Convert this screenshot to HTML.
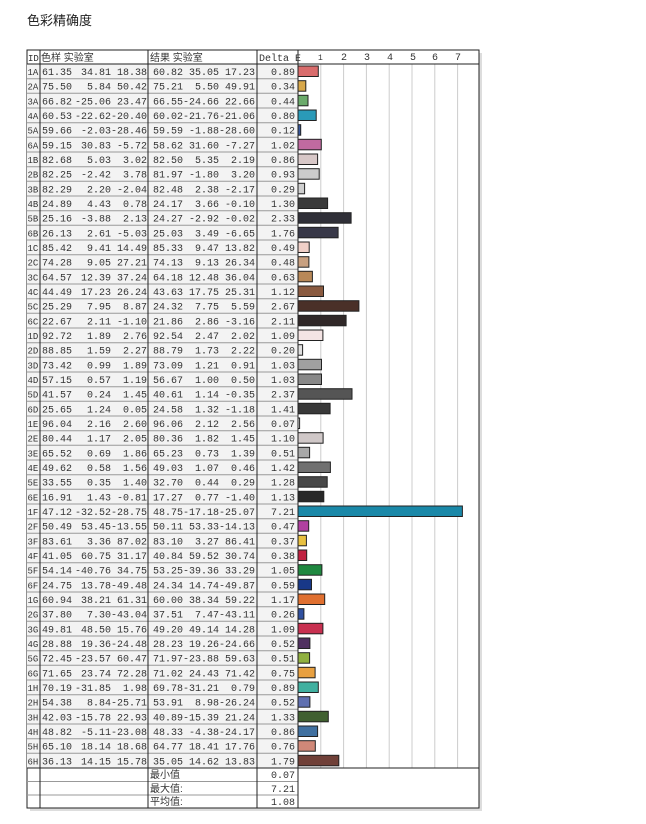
<!DOCTYPE html>
<html><head><meta charset="utf-8"><style>
body{margin:0;background:#fff;width:646px;height:824px;overflow:hidden}
svg{display:block}
text{font-family:"Liberation Mono","Noto Sans CJK SC",monospace;font-size:10px;fill:#333}
.r{text-anchor:end}
.c{font-family:"Liberation Sans","Noto Sans CJK SC",sans-serif}
g>text:first-child{font-size:9px}
rect.b{stroke:#222;stroke-width:1}
</style></head><body>
<svg width="646" height="824" viewBox="0 0 646 824">
<text x="27" y="25" class="c" style="font-size:13px;fill:#222">色彩精确度</text>
<rect x="30" y="53" width="452" height="758" fill="#ddd"/>
<rect x="27" y="50" width="452" height="758" fill="#fff" stroke="#222"/>
<rect x="27" y="64" width="271" height="704" fill="#f3f3f3"/>
<g stroke="#ccc">
<line x1="320.8" y1="64" x2="320.8" y2="768"/><line x1="343.6" y1="64" x2="343.6" y2="768"/><line x1="366.4" y1="64" x2="366.4" y2="768"/><line x1="389.2" y1="64" x2="389.2" y2="768"/><line x1="412" y1="64" x2="412" y2="768"/><line x1="434.8" y1="64" x2="434.8" y2="768"/><line x1="457.6" y1="64" x2="457.6" y2="768"/>
</g>
<g stroke="#999">
<line x1="27" y1="78.7" x2="298" y2="78.7"/><line x1="27" y1="93.3" x2="298" y2="93.3"/><line x1="27" y1="108" x2="298" y2="108"/><line x1="27" y1="122.7" x2="298" y2="122.7"/><line x1="27" y1="137.3" x2="298" y2="137.3"/><line x1="27" y1="152" x2="298" y2="152"/><line x1="27" y1="166.7" x2="298" y2="166.7"/><line x1="27" y1="181.3" x2="298" y2="181.3"/><line x1="27" y1="196" x2="298" y2="196"/><line x1="27" y1="210.7" x2="298" y2="210.7"/><line x1="27" y1="225.3" x2="298" y2="225.3"/><line x1="27" y1="240" x2="298" y2="240"/><line x1="27" y1="254.7" x2="298" y2="254.7"/><line x1="27" y1="269.3" x2="298" y2="269.3"/><line x1="27" y1="284" x2="298" y2="284"/><line x1="27" y1="298.7" x2="298" y2="298.7"/><line x1="27" y1="313.3" x2="298" y2="313.3"/><line x1="27" y1="328" x2="298" y2="328"/><line x1="27" y1="342.7" x2="298" y2="342.7"/><line x1="27" y1="357.3" x2="298" y2="357.3"/><line x1="27" y1="372" x2="298" y2="372"/><line x1="27" y1="386.7" x2="298" y2="386.7"/><line x1="27" y1="401.3" x2="298" y2="401.3"/><line x1="27" y1="416" x2="298" y2="416"/><line x1="27" y1="430.7" x2="298" y2="430.7"/><line x1="27" y1="445.3" x2="298" y2="445.3"/><line x1="27" y1="460" x2="298" y2="460"/><line x1="27" y1="474.7" x2="298" y2="474.7"/><line x1="27" y1="489.3" x2="298" y2="489.3"/><line x1="27" y1="504" x2="298" y2="504"/><line x1="27" y1="518.7" x2="298" y2="518.7"/><line x1="27" y1="533.3" x2="298" y2="533.3"/><line x1="27" y1="548" x2="298" y2="548"/><line x1="27" y1="562.7" x2="298" y2="562.7"/><line x1="27" y1="577.3" x2="298" y2="577.3"/><line x1="27" y1="592" x2="298" y2="592"/><line x1="27" y1="606.7" x2="298" y2="606.7"/><line x1="27" y1="621.3" x2="298" y2="621.3"/><line x1="27" y1="636" x2="298" y2="636"/><line x1="27" y1="650.7" x2="298" y2="650.7"/><line x1="27" y1="665.3" x2="298" y2="665.3"/><line x1="27" y1="680" x2="298" y2="680"/><line x1="27" y1="694.7" x2="298" y2="694.7"/><line x1="27" y1="709.3" x2="298" y2="709.3"/><line x1="27" y1="724" x2="298" y2="724"/><line x1="27" y1="738.7" x2="298" y2="738.7"/><line x1="27" y1="753.3" x2="298" y2="753.3"/>
<line x1="27" y1="781.5" x2="298" y2="781.5"/><line x1="27" y1="795" x2="298" y2="795"/>
</g>
<g stroke="#222">
<line x1="27" y1="64" x2="479" y2="64"/><line x1="27" y1="768" x2="479" y2="768"/>
<line x1="40" y1="50" x2="40" y2="808"/><line x1="148" y1="50" x2="148" y2="808"/><line x1="257" y1="50" x2="257" y2="808"/><line x1="298" y1="50" x2="298" y2="808"/>
</g>
<text x="28" y="61" style="font-size:9px">ID</text><text x="41" y="61" class="c">色样 实验室</text><text x="150" y="61" class="c">结果 实验室</text><text x="259" y="61">Delta E</text>
<g style="font-size:8px"><text x="318" y="60" style="font-size:8px">1</text><text x="341" y="60">2</text><text x="364" y="60">3</text><text x="387" y="60">4</text><text x="410" y="60">5</text><text x="432" y="60">6</text><text x="455" y="60">7</text></g>

<g transform="translate(0,64)"><text x="27.5" y="11">1A</text><text class="r" x="72" y="11">61.35</text><text class="r" x="111" y="11">34.81</text><text class="r" x="147" y="11">18.38</text><text class="r" x="183" y="11">60.82</text><text class="r" x="219" y="11">35.05</text><text class="r" x="255" y="11">17.23</text><text class="r" x="295" y="11">0.89</text><rect class="b" x="298" y="2" width="20.3" height="10.5" fill="#d96c6c"/></g>
<g transform="translate(0,78.7)"><text x="27.5" y="11">2A</text><text class="r" x="72" y="11">75.50</text><text class="r" x="111" y="11">5.84</text><text class="r" x="147" y="11">50.42</text><text class="r" x="183" y="11">75.21</text><text class="r" x="219" y="11">5.50</text><text class="r" x="255" y="11">49.91</text><text class="r" x="295" y="11">0.34</text><rect class="b" x="298" y="2" width="7.8" height="10.5" fill="#d8a84a"/></g>
<g transform="translate(0,93.3)"><text x="27.5" y="11">3A</text><text class="r" x="72" y="11">66.82</text><text class="r" x="111" y="11">-25.06</text><text class="r" x="147" y="11">23.47</text><text class="r" x="183" y="11">66.55</text><text class="r" x="219" y="11">-24.66</text><text class="r" x="255" y="11">22.66</text><text class="r" x="295" y="11">0.44</text><rect class="b" x="298" y="2" width="10" height="10.5" fill="#6aaa6a"/></g>
<g transform="translate(0,108)"><text x="27.5" y="11">4A</text><text class="r" x="72" y="11">60.53</text><text class="r" x="111" y="11">-22.62</text><text class="r" x="147" y="11">-20.40</text><text class="r" x="183" y="11">60.02</text><text class="r" x="219" y="11">-21.76</text><text class="r" x="255" y="11">-21.06</text><text class="r" x="295" y="11">0.80</text><rect class="b" x="298" y="2" width="18.2" height="10.5" fill="#2a9ab8"/></g>
<g transform="translate(0,122.7)"><text x="27.5" y="11">5A</text><text class="r" x="72" y="11">59.66</text><text class="r" x="111" y="11">-2.03</text><text class="r" x="147" y="11">-28.46</text><text class="r" x="183" y="11">59.59</text><text class="r" x="219" y="11">-1.88</text><text class="r" x="255" y="11">-28.60</text><text class="r" x="295" y="11">0.12</text><rect class="b" x="298" y="2" width="2.7" height="10.5" fill="#3a5aa0"/></g>
<g transform="translate(0,137.3)"><text x="27.5" y="11">6A</text><text class="r" x="72" y="11">59.15</text><text class="r" x="111" y="11">30.83</text><text class="r" x="147" y="11">-5.72</text><text class="r" x="183" y="11">58.62</text><text class="r" x="219" y="11">31.60</text><text class="r" x="255" y="11">-7.27</text><text class="r" x="295" y="11">1.02</text><rect class="b" x="298" y="2" width="23.3" height="10.5" fill="#c06aa0"/></g>
<g transform="translate(0,152)"><text x="27.5" y="11">1B</text><text class="r" x="72" y="11">82.68</text><text class="r" x="111" y="11">5.03</text><text class="r" x="147" y="11">3.02</text><text class="r" x="183" y="11">82.50</text><text class="r" x="219" y="11">5.35</text><text class="r" x="255" y="11">2.19</text><text class="r" x="295" y="11">0.86</text><rect class="b" x="298" y="2" width="19.6" height="10.5" fill="#d8c8c8"/></g>
<g transform="translate(0,166.7)"><text x="27.5" y="11">2B</text><text class="r" x="72" y="11">82.25</text><text class="r" x="111" y="11">-2.42</text><text class="r" x="147" y="11">3.78</text><text class="r" x="183" y="11">81.97</text><text class="r" x="219" y="11">-1.80</text><text class="r" x="255" y="11">3.20</text><text class="r" x="295" y="11">0.93</text><rect class="b" x="298" y="2" width="21.2" height="10.5" fill="#cccccc"/></g>
<g transform="translate(0,181.3)"><text x="27.5" y="11">3B</text><text class="r" x="72" y="11">82.29</text><text class="r" x="111" y="11">2.20</text><text class="r" x="147" y="11">-2.04</text><text class="r" x="183" y="11">82.48</text><text class="r" x="219" y="11">2.38</text><text class="r" x="255" y="11">-2.17</text><text class="r" x="295" y="11">0.29</text><rect class="b" x="298" y="2" width="6.6" height="10.5" fill="#cfcfcf"/></g>
<g transform="translate(0,196)"><text x="27.5" y="11">4B</text><text class="r" x="72" y="11">24.89</text><text class="r" x="111" y="11">4.43</text><text class="r" x="147" y="11">0.78</text><text class="r" x="183" y="11">24.17</text><text class="r" x="219" y="11">3.66</text><text class="r" x="255" y="11">-0.10</text><text class="r" x="295" y="11">1.30</text><rect class="b" x="298" y="2" width="29.6" height="10.5" fill="#3a3a3a"/></g>
<g transform="translate(0,210.7)"><text x="27.5" y="11">5B</text><text class="r" x="72" y="11">25.16</text><text class="r" x="111" y="11">-3.88</text><text class="r" x="147" y="11">2.13</text><text class="r" x="183" y="11">24.27</text><text class="r" x="219" y="11">-2.92</text><text class="r" x="255" y="11">-0.02</text><text class="r" x="295" y="11">2.33</text><rect class="b" x="298" y="2" width="53.1" height="10.5" fill="#303038"/></g>
<g transform="translate(0,225.3)"><text x="27.5" y="11">6B</text><text class="r" x="72" y="11">26.13</text><text class="r" x="111" y="11">2.61</text><text class="r" x="147" y="11">-5.03</text><text class="r" x="183" y="11">25.03</text><text class="r" x="219" y="11">3.49</text><text class="r" x="255" y="11">-6.65</text><text class="r" x="295" y="11">1.76</text><rect class="b" x="298" y="2" width="40.1" height="10.5" fill="#383848"/></g>
<g transform="translate(0,240)"><text x="27.5" y="11">1C</text><text class="r" x="72" y="11">85.42</text><text class="r" x="111" y="11">9.41</text><text class="r" x="147" y="11">14.49</text><text class="r" x="183" y="11">85.33</text><text class="r" x="219" y="11">9.47</text><text class="r" x="255" y="11">13.82</text><text class="r" x="295" y="11">0.49</text><rect class="b" x="298" y="2" width="11.2" height="10.5" fill="#f0d0c8"/></g>
<g transform="translate(0,254.7)"><text x="27.5" y="11">2C</text><text class="r" x="72" y="11">74.28</text><text class="r" x="111" y="11">9.05</text><text class="r" x="147" y="11">27.21</text><text class="r" x="183" y="11">74.13</text><text class="r" x="219" y="11">9.13</text><text class="r" x="255" y="11">26.34</text><text class="r" x="295" y="11">0.48</text><rect class="b" x="298" y="2" width="10.9" height="10.5" fill="#c8a080"/></g>
<g transform="translate(0,269.3)"><text x="27.5" y="11">3C</text><text class="r" x="72" y="11">64.57</text><text class="r" x="111" y="11">12.39</text><text class="r" x="147" y="11">37.24</text><text class="r" x="183" y="11">64.18</text><text class="r" x="219" y="11">12.48</text><text class="r" x="255" y="11">36.04</text><text class="r" x="295" y="11">0.63</text><rect class="b" x="298" y="2" width="14.4" height="10.5" fill="#b88858"/></g>
<g transform="translate(0,284)"><text x="27.5" y="11">4C</text><text class="r" x="72" y="11">44.49</text><text class="r" x="111" y="11">17.23</text><text class="r" x="147" y="11">26.24</text><text class="r" x="183" y="11">43.63</text><text class="r" x="219" y="11">17.75</text><text class="r" x="255" y="11">25.31</text><text class="r" x="295" y="11">1.12</text><rect class="b" x="298" y="2" width="25.5" height="10.5" fill="#8a5a40"/></g>
<g transform="translate(0,298.7)"><text x="27.5" y="11">5C</text><text class="r" x="72" y="11">25.29</text><text class="r" x="111" y="11">7.95</text><text class="r" x="147" y="11">8.87</text><text class="r" x="183" y="11">24.32</text><text class="r" x="219" y="11">7.75</text><text class="r" x="255" y="11">5.59</text><text class="r" x="295" y="11">2.67</text><rect class="b" x="298" y="2" width="60.9" height="10.5" fill="#4a3028"/></g>
<g transform="translate(0,313.3)"><text x="27.5" y="11">6C</text><text class="r" x="72" y="11">22.67</text><text class="r" x="111" y="11">2.11</text><text class="r" x="147" y="11">-1.10</text><text class="r" x="183" y="11">21.86</text><text class="r" x="219" y="11">2.86</text><text class="r" x="255" y="11">-3.16</text><text class="r" x="295" y="11">2.11</text><rect class="b" x="298" y="2" width="48.1" height="10.5" fill="#302828"/></g>
<g transform="translate(0,328)"><text x="27.5" y="11">1D</text><text class="r" x="72" y="11">92.72</text><text class="r" x="111" y="11">1.89</text><text class="r" x="147" y="11">2.76</text><text class="r" x="183" y="11">92.54</text><text class="r" x="219" y="11">2.47</text><text class="r" x="255" y="11">2.02</text><text class="r" x="295" y="11">1.09</text><rect class="b" x="298" y="2" width="24.9" height="10.5" fill="#f4e4e4"/></g>
<g transform="translate(0,342.7)"><text x="27.5" y="11">2D</text><text class="r" x="72" y="11">88.85</text><text class="r" x="111" y="11">1.59</text><text class="r" x="147" y="11">2.27</text><text class="r" x="183" y="11">88.79</text><text class="r" x="219" y="11">1.73</text><text class="r" x="255" y="11">2.22</text><text class="r" x="295" y="11">0.20</text><rect class="b" x="298" y="2" width="4.6" height="10.5" fill="#e0e0e0"/></g>
<g transform="translate(0,357.3)"><text x="27.5" y="11">3D</text><text class="r" x="72" y="11">73.42</text><text class="r" x="111" y="11">0.99</text><text class="r" x="147" y="11">1.89</text><text class="r" x="183" y="11">73.09</text><text class="r" x="219" y="11">1.21</text><text class="r" x="255" y="11">0.91</text><text class="r" x="295" y="11">1.03</text><rect class="b" x="298" y="2" width="23.5" height="10.5" fill="#a0a0a0"/></g>
<g transform="translate(0,372)"><text x="27.5" y="11">4D</text><text class="r" x="72" y="11">57.15</text><text class="r" x="111" y="11">0.57</text><text class="r" x="147" y="11">1.19</text><text class="r" x="183" y="11">56.67</text><text class="r" x="219" y="11">1.00</text><text class="r" x="255" y="11">0.50</text><text class="r" x="295" y="11">1.03</text><rect class="b" x="298" y="2" width="23.5" height="10.5" fill="#888888"/></g>
<g transform="translate(0,386.7)"><text x="27.5" y="11">5D</text><text class="r" x="72" y="11">41.57</text><text class="r" x="111" y="11">0.24</text><text class="r" x="147" y="11">1.45</text><text class="r" x="183" y="11">40.61</text><text class="r" x="219" y="11">1.14</text><text class="r" x="255" y="11">-0.35</text><text class="r" x="295" y="11">2.37</text><rect class="b" x="298" y="2" width="54" height="10.5" fill="#555555"/></g>
<g transform="translate(0,401.3)"><text x="27.5" y="11">6D</text><text class="r" x="72" y="11">25.65</text><text class="r" x="111" y="11">1.24</text><text class="r" x="147" y="11">0.05</text><text class="r" x="183" y="11">24.58</text><text class="r" x="219" y="11">1.32</text><text class="r" x="255" y="11">-1.18</text><text class="r" x="295" y="11">1.41</text><rect class="b" x="298" y="2" width="32.1" height="10.5" fill="#383838"/></g>
<g transform="translate(0,416)"><text x="27.5" y="11">1E</text><text class="r" x="72" y="11">96.04</text><text class="r" x="111" y="11">2.16</text><text class="r" x="147" y="11">2.60</text><text class="r" x="183" y="11">96.06</text><text class="r" x="219" y="11">2.12</text><text class="r" x="255" y="11">2.56</text><text class="r" x="295" y="11">0.07</text><rect class="b" x="298" y="2" width="1.6" height="10.5" fill="#f8f8f8"/></g>
<g transform="translate(0,430.7)"><text x="27.5" y="11">2E</text><text class="r" x="72" y="11">80.44</text><text class="r" x="111" y="11">1.17</text><text class="r" x="147" y="11">2.05</text><text class="r" x="183" y="11">80.36</text><text class="r" x="219" y="11">1.82</text><text class="r" x="255" y="11">1.45</text><text class="r" x="295" y="11">1.10</text><rect class="b" x="298" y="2" width="25.1" height="10.5" fill="#d0c8c8"/></g>
<g transform="translate(0,445.3)"><text x="27.5" y="11">3E</text><text class="r" x="72" y="11">65.52</text><text class="r" x="111" y="11">0.69</text><text class="r" x="147" y="11">1.86</text><text class="r" x="183" y="11">65.23</text><text class="r" x="219" y="11">0.73</text><text class="r" x="255" y="11">1.39</text><text class="r" x="295" y="11">0.51</text><rect class="b" x="298" y="2" width="11.6" height="10.5" fill="#a8a8a8"/></g>
<g transform="translate(0,460)"><text x="27.5" y="11">4E</text><text class="r" x="72" y="11">49.62</text><text class="r" x="111" y="11">0.58</text><text class="r" x="147" y="11">1.56</text><text class="r" x="183" y="11">49.03</text><text class="r" x="219" y="11">1.07</text><text class="r" x="255" y="11">0.46</text><text class="r" x="295" y="11">1.42</text><rect class="b" x="298" y="2" width="32.4" height="10.5" fill="#707070"/></g>
<g transform="translate(0,474.7)"><text x="27.5" y="11">5E</text><text class="r" x="72" y="11">33.55</text><text class="r" x="111" y="11">0.35</text><text class="r" x="147" y="11">1.40</text><text class="r" x="183" y="11">32.70</text><text class="r" x="219" y="11">0.44</text><text class="r" x="255" y="11">0.29</text><text class="r" x="295" y="11">1.28</text><rect class="b" x="298" y="2" width="29.2" height="10.5" fill="#484848"/></g>
<g transform="translate(0,489.3)"><text x="27.5" y="11">6E</text><text class="r" x="72" y="11">16.91</text><text class="r" x="111" y="11">1.43</text><text class="r" x="147" y="11">-0.81</text><text class="r" x="183" y="11">17.27</text><text class="r" x="219" y="11">0.77</text><text class="r" x="255" y="11">-1.40</text><text class="r" x="295" y="11">1.13</text><rect class="b" x="298" y="2" width="25.8" height="10.5" fill="#282828"/></g>
<g transform="translate(0,504)"><text x="27.5" y="11">1F</text><text class="r" x="72" y="11">47.12</text><text class="r" x="111" y="11">-32.52</text><text class="r" x="147" y="11">-28.75</text><text class="r" x="183" y="11">48.75</text><text class="r" x="219" y="11">-17.18</text><text class="r" x="255" y="11">-25.07</text><text class="r" x="295" y="11">7.21</text><rect class="b" x="298" y="2" width="164.4" height="10.5" fill="#1a88a8"/></g>
<g transform="translate(0,518.7)"><text x="27.5" y="11">2F</text><text class="r" x="72" y="11">50.49</text><text class="r" x="111" y="11">53.45</text><text class="r" x="147" y="11">-13.55</text><text class="r" x="183" y="11">50.11</text><text class="r" x="219" y="11">53.33</text><text class="r" x="255" y="11">-14.13</text><text class="r" x="295" y="11">0.47</text><rect class="b" x="298" y="2" width="10.7" height="10.5" fill="#b040a0"/></g>
<g transform="translate(0,533.3)"><text x="27.5" y="11">3F</text><text class="r" x="72" y="11">83.61</text><text class="r" x="111" y="11">3.36</text><text class="r" x="147" y="11">87.02</text><text class="r" x="183" y="11">83.10</text><text class="r" x="219" y="11">3.27</text><text class="r" x="255" y="11">86.41</text><text class="r" x="295" y="11">0.37</text><rect class="b" x="298" y="2" width="8.4" height="10.5" fill="#e8c040"/></g>
<g transform="translate(0,548)"><text x="27.5" y="11">4F</text><text class="r" x="72" y="11">41.05</text><text class="r" x="111" y="11">60.75</text><text class="r" x="147" y="11">31.17</text><text class="r" x="183" y="11">40.84</text><text class="r" x="219" y="11">59.52</text><text class="r" x="255" y="11">30.74</text><text class="r" x="295" y="11">0.38</text><rect class="b" x="298" y="2" width="8.7" height="10.5" fill="#c02040"/></g>
<g transform="translate(0,562.7)"><text x="27.5" y="11">5F</text><text class="r" x="72" y="11">54.14</text><text class="r" x="111" y="11">-40.76</text><text class="r" x="147" y="11">34.75</text><text class="r" x="183" y="11">53.25</text><text class="r" x="219" y="11">-39.36</text><text class="r" x="255" y="11">33.29</text><text class="r" x="295" y="11">1.05</text><rect class="b" x="298" y="2" width="23.9" height="10.5" fill="#208840"/></g>
<g transform="translate(0,577.3)"><text x="27.5" y="11">6F</text><text class="r" x="72" y="11">24.75</text><text class="r" x="111" y="11">13.78</text><text class="r" x="147" y="11">-49.48</text><text class="r" x="183" y="11">24.34</text><text class="r" x="219" y="11">14.74</text><text class="r" x="255" y="11">-49.87</text><text class="r" x="295" y="11">0.59</text><rect class="b" x="298" y="2" width="13.5" height="10.5" fill="#183888"/></g>
<g transform="translate(0,592)"><text x="27.5" y="11">1G</text><text class="r" x="72" y="11">60.94</text><text class="r" x="111" y="11">38.21</text><text class="r" x="147" y="11">61.31</text><text class="r" x="183" y="11">60.00</text><text class="r" x="219" y="11">38.34</text><text class="r" x="255" y="11">59.22</text><text class="r" x="295" y="11">1.17</text><rect class="b" x="298" y="2" width="26.7" height="10.5" fill="#e07030"/></g>
<g transform="translate(0,606.7)"><text x="27.5" y="11">2G</text><text class="r" x="72" y="11">37.80</text><text class="r" x="111" y="11">7.30</text><text class="r" x="147" y="11">-43.04</text><text class="r" x="183" y="11">37.51</text><text class="r" x="219" y="11">7.47</text><text class="r" x="255" y="11">-43.11</text><text class="r" x="295" y="11">0.26</text><rect class="b" x="298" y="2" width="5.9" height="10.5" fill="#3050a0"/></g>
<g transform="translate(0,621.3)"><text x="27.5" y="11">3G</text><text class="r" x="72" y="11">49.81</text><text class="r" x="111" y="11">48.50</text><text class="r" x="147" y="11">15.76</text><text class="r" x="183" y="11">49.20</text><text class="r" x="219" y="11">49.14</text><text class="r" x="255" y="11">14.28</text><text class="r" x="295" y="11">1.09</text><rect class="b" x="298" y="2" width="24.9" height="10.5" fill="#c83050"/></g>
<g transform="translate(0,636)"><text x="27.5" y="11">4G</text><text class="r" x="72" y="11">28.88</text><text class="r" x="111" y="11">19.36</text><text class="r" x="147" y="11">-24.48</text><text class="r" x="183" y="11">28.23</text><text class="r" x="219" y="11">19.26</text><text class="r" x="255" y="11">-24.66</text><text class="r" x="295" y="11">0.52</text><rect class="b" x="298" y="2" width="11.9" height="10.5" fill="#503060"/></g>
<g transform="translate(0,650.7)"><text x="27.5" y="11">5G</text><text class="r" x="72" y="11">72.45</text><text class="r" x="111" y="11">-23.57</text><text class="r" x="147" y="11">60.47</text><text class="r" x="183" y="11">71.97</text><text class="r" x="219" y="11">-23.88</text><text class="r" x="255" y="11">59.63</text><text class="r" x="295" y="11">0.51</text><rect class="b" x="298" y="2" width="11.6" height="10.5" fill="#90b040"/></g>
<g transform="translate(0,665.3)"><text x="27.5" y="11">6G</text><text class="r" x="72" y="11">71.65</text><text class="r" x="111" y="11">23.74</text><text class="r" x="147" y="11">72.28</text><text class="r" x="183" y="11">71.02</text><text class="r" x="219" y="11">24.43</text><text class="r" x="255" y="11">71.42</text><text class="r" x="295" y="11">0.75</text><rect class="b" x="298" y="2" width="17.1" height="10.5" fill="#e8a040"/></g>
<g transform="translate(0,680)"><text x="27.5" y="11">1H</text><text class="r" x="72" y="11">70.19</text><text class="r" x="111" y="11">-31.85</text><text class="r" x="147" y="11">1.98</text><text class="r" x="183" y="11">69.78</text><text class="r" x="219" y="11">-31.21</text><text class="r" x="255" y="11">0.79</text><text class="r" x="295" y="11">0.89</text><rect class="b" x="298" y="2" width="20.3" height="10.5" fill="#40b0a0"/></g>
<g transform="translate(0,694.7)"><text x="27.5" y="11">2H</text><text class="r" x="72" y="11">54.38</text><text class="r" x="111" y="11">8.84</text><text class="r" x="147" y="11">-25.71</text><text class="r" x="183" y="11">53.91</text><text class="r" x="219" y="11">8.98</text><text class="r" x="255" y="11">-26.24</text><text class="r" x="295" y="11">0.52</text><rect class="b" x="298" y="2" width="11.9" height="10.5" fill="#6070b0"/></g>
<g transform="translate(0,709.3)"><text x="27.5" y="11">3H</text><text class="r" x="72" y="11">42.03</text><text class="r" x="111" y="11">-15.78</text><text class="r" x="147" y="11">22.93</text><text class="r" x="183" y="11">40.89</text><text class="r" x="219" y="11">-15.39</text><text class="r" x="255" y="11">21.24</text><text class="r" x="295" y="11">1.33</text><rect class="b" x="298" y="2" width="30.3" height="10.5" fill="#406030"/></g>
<g transform="translate(0,724)"><text x="27.5" y="11">4H</text><text class="r" x="72" y="11">48.82</text><text class="r" x="111" y="11">-5.11</text><text class="r" x="147" y="11">-23.08</text><text class="r" x="183" y="11">48.33</text><text class="r" x="219" y="11">-4.38</text><text class="r" x="255" y="11">-24.17</text><text class="r" x="295" y="11">0.86</text><rect class="b" x="298" y="2" width="19.6" height="10.5" fill="#4070a0"/></g>
<g transform="translate(0,738.7)"><text x="27.5" y="11">5H</text><text class="r" x="72" y="11">65.10</text><text class="r" x="111" y="11">18.14</text><text class="r" x="147" y="11">18.68</text><text class="r" x="183" y="11">64.77</text><text class="r" x="219" y="11">18.41</text><text class="r" x="255" y="11">17.76</text><text class="r" x="295" y="11">0.76</text><rect class="b" x="298" y="2" width="17.3" height="10.5" fill="#d08878"/></g>
<g transform="translate(0,753.3)"><text x="27.5" y="11">6H</text><text class="r" x="72" y="11">36.13</text><text class="r" x="111" y="11">14.15</text><text class="r" x="147" y="11">15.78</text><text class="r" x="183" y="11">35.05</text><text class="r" x="219" y="11">14.62</text><text class="r" x="255" y="11">13.83</text><text class="r" x="295" y="11">1.79</text><rect class="b" x="298" y="2" width="40.8" height="10.5" fill="#704038"/></g>

<text x="150" y="778" class="c">最小值</text><text class="r" x="295" y="778">0.07</text>
<text x="150" y="792" class="c">最大值:</text><text class="r" x="295" y="792">7.21</text>
<text x="150" y="805" class="c">平均值:</text><text class="r" x="295" y="805">1.08</text>
</svg>
</body></html>
